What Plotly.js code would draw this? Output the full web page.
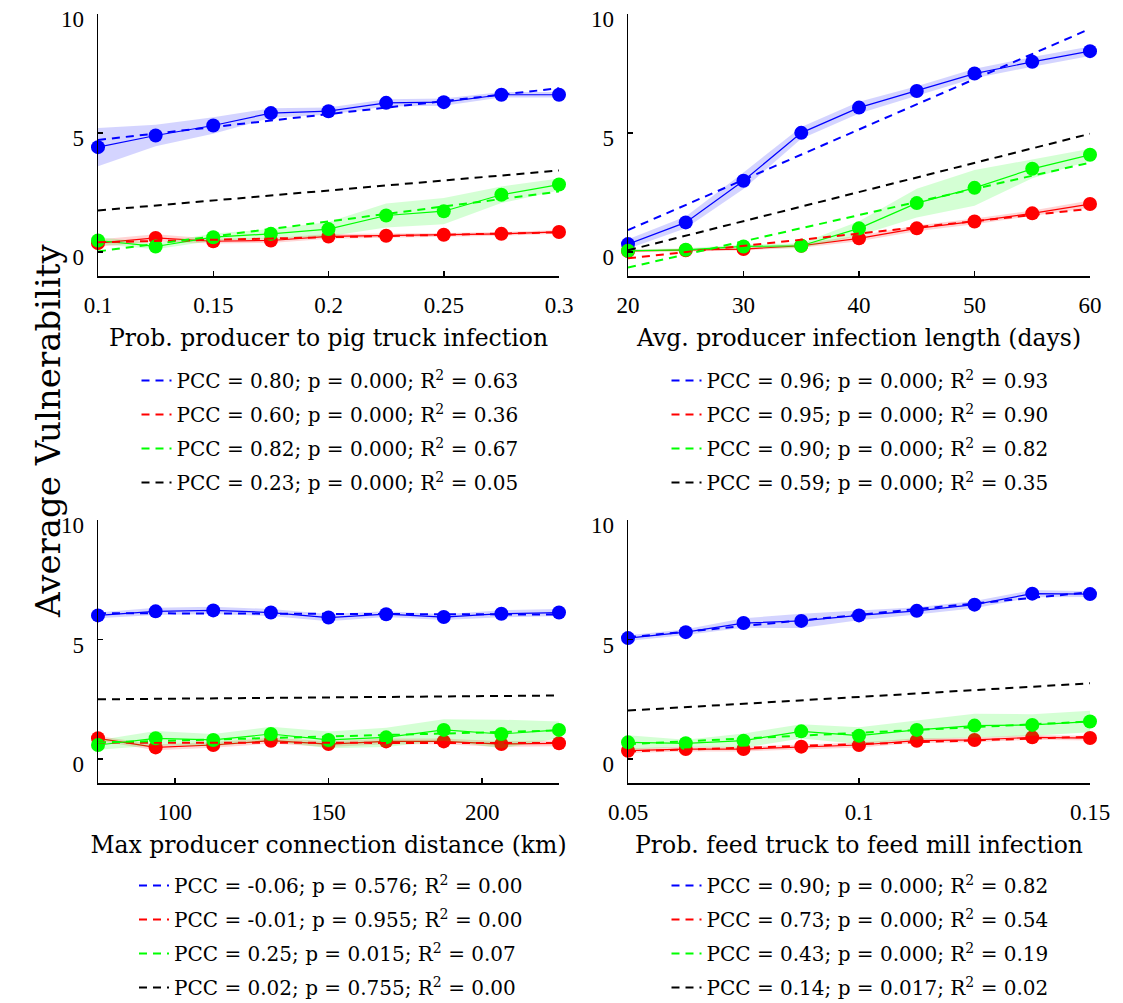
<!DOCTYPE html>
<html><head><meta charset="utf-8">
<script src="https://cdn.plot.ly/plotly-3.0.1.min.js"></script>
<style>body{margin:0;background:#fff}#chart{width:1123px;height:1003px}</style>
</head><body><div id="chart"></div>
<script>
// ---------- data ----------
// Panel 1: Prob. producer to pig truck infection
const x1 = [0.1, 0.125, 0.15, 0.175, 0.2, 0.225, 0.25, 0.275, 0.3];
const blue1 = [4.41, 4.90, 5.32, 5.84, 5.92, 6.27, 6.30, 6.61, 6.61];
const blueErr1 = [0.8, 0.45, 0.35, 0.2, 0.15, 0.15, 0.15, 0.12, 0.12];
const red1 = [0.38, 0.60, 0.46, 0.49, 0.66, 0.69, 0.73, 0.77, 0.85];
const redErr1 = [0.15, 0.15, 0.1, 0.1, 0.1, 0.08, 0.08, 0.08, 0.08];
const green1 = [0.49, 0.24, 0.63, 0.77, 0.97, 1.54, 1.72, 2.41, 2.84];
const greenErr1 = [0.15, 0.12, 0.15, 0.2, 0.3, 0.5, 0.55, 0.35, 0.25];
const blackFit1 = [1.75, 3.43];
const pcc1 = ['0.80', '0.60', '0.82', '0.23'];
const pv1 = ['0.000', '0.000', '0.000', '0.000'];
const r2_1 = ['0.63', '0.36', '0.67', '0.05'];
const xRange1 = [0.1, 0.3];
const xTicks1 = [0.1, 0.15, 0.2, 0.25, 0.3];
const xTickText1 = ['0.1', '0.15', '0.2', '0.25', '0.3'];

// Panel 2: Avg. producer infection length (days)
const x2 = [20, 25, 30, 35, 40, 45, 50, 55, 60];
const blue2 = [0.34, 1.25, 3.0, 5.01, 6.07, 6.77, 7.5, 7.99, 8.44];
const blueErr2 = [0.2, 0.25, 0.35, 0.25, 0.25, 0.2, 0.2, 0.2, 0.2];
const red2 = [0.05, 0.08, 0.13, 0.27, 0.58, 1.0, 1.29, 1.63, 2.02];
const redErr2 = [0.05, 0.05, 0.06, 0.08, 0.12, 0.12, 0.12, 0.12, 0.15];
const green2 = [0.06, 0.1, 0.24, 0.27, 1.0, 2.06, 2.70, 3.5, 4.09];
const greenErr2 = [0.05, 0.06, 0.08, 0.1, 0.3, 0.6, 0.75, 0.4, 0.25];
const blackFit2 = [0.08, 4.97];
const pcc2 = ['0.96', '0.95', '0.90', '0.59'];
const pv2 = ['0.000', '0.000', '0.000', '0.000'];
const r2_2 = ['0.93', '0.90', '0.82', '0.35'];
const xRange2 = [20, 60];
const xTicks2 = [20, 30, 40, 50, 60];
const xTickText2 = ['20', '30', '40', '50', '60'];

// Panel 3: Max producer connection distance (km)
const x3 = [75, 93.75, 112.5, 131.25, 150, 168.75, 187.5, 206.25, 225];
const blue3 = [6.01, 6.18, 6.22, 6.13, 5.92, 6.06, 5.94, 6.08, 6.13];
const blueErr3 = [0.12, 0.15, 0.15, 0.15, 0.15, 0.12, 0.12, 0.15, 0.15];
const red3 = [0.87, 0.49, 0.59, 0.77, 0.63, 0.74, 0.74, 0.63, 0.66];
const redErr3 = [0.1, 0.12, 0.12, 0.12, 0.12, 0.12, 0.12, 0.12, 0.12];
const green3 = [0.59, 0.87, 0.80, 1.05, 0.80, 0.91, 1.22, 1.05, 1.22];
const greenErr3 = [0.2, 0.3, 0.25, 0.3, 0.35, 0.4, 0.45, 0.6, 0.35];
const blackFit3 = [2.5, 2.66];
const pcc3 = ['-0.06', '-0.01', '0.25', '0.02'];
const pv3 = ['0.576', '0.955', '0.015', '0.755'];
const r2_3 = ['0.00', '0.00', '0.07', '0.00'];
const xRange3 = [75, 225];
const xTicks3 = [100, 150, 200];
const xTickText3 = ['100', '150', '200'];

// Panel 4: Prob. feed truck to feed mill infection
const x4 = [0.05, 0.0625, 0.075, 0.0875, 0.1, 0.1125, 0.125, 0.1375, 0.15];
const blue4 = [5.06, 5.31, 5.69, 5.78, 6.01, 6.2, 6.46, 6.92, 6.9];
const blueErr4 = [0.12, 0.12, 0.2, 0.3, 0.2, 0.15, 0.15, 0.15, 0.12];
const red4 = [0.35, 0.42, 0.42, 0.52, 0.59, 0.77, 0.80, 0.91, 0.88];
const redErr4 = [0.1, 0.1, 0.1, 0.1, 0.1, 0.1, 0.1, 0.1, 0.1];
const green4 = [0.70, 0.66, 0.77, 1.16, 0.98, 1.22, 1.40, 1.43, 1.57];
const greenErr4 = [0.3, 0.15, 0.3, 0.3, 0.35, 0.4, 0.5, 0.45, 0.45];
const blackFit4 = [2.03, 3.17];
const pcc4 = ['0.90', '0.73', '0.43', '0.14'];
const pv4 = ['0.000', '0.000', '0.000', '0.017'];
const r2_4 = ['0.82', '0.54', '0.19', '0.02'];
const xRange4 = [0.05, 0.15];
const xTicks4 = [0.05, 0.1, 0.15];
const xTickText4 = ['0.05', '0.1', '0.15'];

const yRange = [-1, 10];
const yTicks = [0, 5, 10];
const yTickText = ['0', '5', '10'];
const xTitles = ['Prob. producer to pig truck infection', 'Avg. producer infection length (days)',
                 'Max producer connection distance (km)', 'Prob. feed truck to feed mill infection'];
const yTitle = 'Average Vulnerability';

// ---------- build ----------
const COL = {blue: '#0000ff', red: '#ff0000', green: '#00ff00', black: '#000000'};
const BAND = {blue: 'rgba(0,0,255,0.17)', red: 'rgba(255,0,0,0.17)', green: 'rgba(0,255,0,0.17)'};
const DASH = '8px,6px';

function lsFit(x, y) {
  const n = x.length;
  const mx = x.reduce((a, b) => a + b, 0) / n, my = y.reduce((a, b) => a + b, 0) / n;
  let sxy = 0, sxx = 0;
  for (let i = 0; i < n; i++) { sxy += (x[i] - mx) * (y[i] - my); sxx += (x[i] - mx) ** 2; }
  const b = sxy / sxx, a = my - b * mx;
  const xe = [x[0], x[n - 1]];
  return {x: xe, y: xe.map(v => a + b * v)};
}

const panels = [
  {x: x1, s: {blue: [blue1, blueErr1], red: [red1, redErr1], green: [green1, greenErr1]}, black: blackFit1, pcc: pcc1, pv: pv1, r2: r2_1},
  {x: x2, s: {blue: [blue2, blueErr2], red: [red2, redErr2], green: [green2, greenErr2]}, black: blackFit2, pcc: pcc2, pv: pv2, r2: r2_2},
  {x: x3, s: {blue: [blue3, blueErr3], red: [red3, redErr3], green: [green3, greenErr3]}, black: blackFit3, pcc: pcc3, pv: pv3, r2: r2_3},
  {x: x4, s: {blue: [blue4, blueErr4], red: [red4, redErr4], green: [green4, greenErr4]}, black: blackFit4, pcc: pcc4, pv: pv4, r2: r2_4}
];

const traces = [];
panels.forEach((p, k) => {
  const xa = k === 0 ? 'x' : 'x' + (k + 1), ya = k === 0 ? 'y' : 'y' + (k + 1);
  const lg = k === 0 ? 'legend' : 'legend' + (k + 1);
  ['blue', 'red', 'green'].forEach(c => {
    const [m, e] = p.s[c];
    const up = m.map((v, i) => v + e[i]), lo = m.map((v, i) => v - e[i]);
    traces.push({x: p.x.concat(p.x.slice().reverse()), y: up.concat(lo.slice().reverse()),
      xaxis: xa, yaxis: ya, type: 'scatter', mode: 'lines', fill: 'toself', fillcolor: BAND[c],
      line: {width: 0, color: BAND[c]}, showlegend: false, hoverinfo: 'skip'});
    traces.push({x: p.x, y: m, xaxis: xa, yaxis: ya, type: 'scatter', mode: 'lines+markers',
      line: {color: COL[c], width: 1.2}, marker: {color: COL[c], size: 14}, cliponaxis: false, showlegend: false});
  });
  const lab = i => 'PCC = ' + p.pcc[i] + '; p = ' + p.pv[i] + '; R<sup>2</sup> = ' + p.r2[i];
  ['blue', 'red', 'green'].forEach((c, i) => {
    const f = lsFit(p.x, p.s[c][0]);
    traces.push({x: f.x, y: f.y, xaxis: xa, yaxis: ya, type: 'scatter', mode: 'lines',
      line: {color: COL[c], width: 2, dash: DASH}, name: lab(i), legend: lg, legendgroup: 'g' + k + i});
  });
  traces.push({x: [p.x[0], p.x[p.x.length - 1]], y: p.black, xaxis: xa, yaxis: ya, type: 'scatter', mode: 'lines',
    line: {color: COL.black, width: 2, dash: DASH}, name: lab(3), legend: lg, legendgroup: 'g' + k + 3});
});

const W = 1123, H = 1003;
const tickFont = {family: 'Liberation Serif', size: 23, color: '#000'};
const titleFont = {family: 'DejaVu Serif', size: 23.5, color: '#000'};
function xax(d, rg, tv, tt, anchor, title) {
  return {domain: d, range: rg, tickmode: 'array', tickvals: tv, ticktext: tt, anchor: anchor,
    showline: true, linecolor: '#000', linewidth: 1.5, ticks: 'inside', ticklen: 5, tickwidth: 1.5, tickcolor: '#000',
    showgrid: false, zeroline: false, tickfont: tickFont, ticklabelstandoff: 8, ticklabeloverflow: 'allow',
    title: {text: title, font: titleFont, standoff: 12}, automargin: false, fixedrange: true};
}
function yax(d, anchor) {
  return {domain: d, range: yRange, tickmode: 'array', tickvals: yTicks, ticktext: yTickText, anchor: anchor,
    showline: true, linecolor: '#000', linewidth: 1.5, ticks: 'inside', ticklen: 5, tickwidth: 1.5, tickcolor: '#000',
    showgrid: false, zeroline: false, tickfont: tickFont, ticklabelstandoff: 8, ticklabelshift: 5,
    ticklabeloverflow: 'allow', automargin: false, fixedrange: true};
}
function leg(xc, ytop) {
  return {x: xc, y: ytop, xanchor: 'center', yanchor: 'top', xref: 'paper', yref: 'paper', bgcolor: 'rgba(0,0,0,0)',
    font: {family: 'DejaVu Serif', size: 20, color: '#000'}, traceorder: 'grouped', tracegroupgap: 5,
    itemclick: false, itemdoubleclick: false};
}
const dL = [98 / W, 559 / W], dR = [628 / W, 1090 / W];
const dT = [1 - 276 / H, 1 - 14 / H], dB = [1 - 783 / H, 1 - 520 / H];

const layout = {
  width: W, height: H, margin: {l: 0, r: 0, t: 0, b: 0, autoexpand: false}, paper_bgcolor: '#fff', plot_bgcolor: '#fff',
  xaxis: xax(dL, xRange1, xTicks1, xTickText1, 'y', xTitles[0]),
  yaxis: yax(dT, 'x'),
  xaxis2: xax(dR, xRange2, xTicks2, xTickText2, 'y2', xTitles[1]),
  yaxis2: yax(dT, 'x2'),
  xaxis3: xax(dL, xRange3, xTicks3, xTickText3, 'y3', xTitles[2]),
  yaxis3: yax(dB, 'x3'),
  xaxis4: xax(dR, xRange4, xTicks4, xTickText4, 'y4', xTitles[3]),
  yaxis4: yax(dB, 'x4'),
  legend: leg(330 / W, 1 - 361 / H),
  legend2: leg(860 / W, 1 - 361 / H),
  legend3: leg(331 / W, 1 - 866 / H),
  legend4: leg(860 / W, 1 - 866 / H),
  annotations: [{text: yTitle, x: 26 / W, y: 1 - 431 / H, xref: 'paper', yref: 'paper', textangle: -90,
    showarrow: false, font: {family: 'DejaVu Serif', size: 34, color: '#000'}}],
  showlegend: true, hovermode: false
};
Plotly.newPlot('chart', traces, layout, {displayModeBar: false, staticPlot: true});
</script></body></html>
